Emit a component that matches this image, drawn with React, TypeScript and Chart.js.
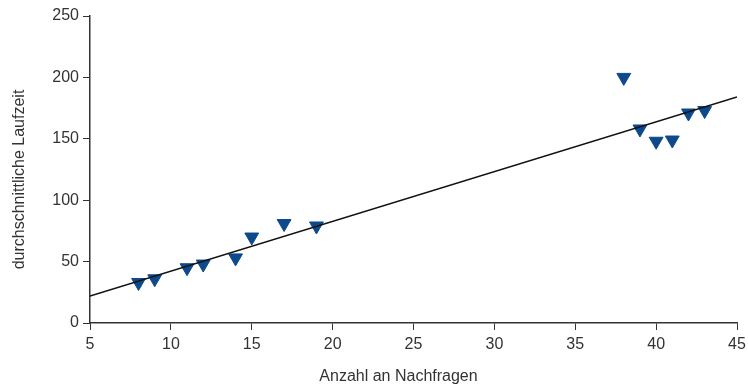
import React, { useEffect, useRef } from "react";
import { Chart, registerables } from "chart.js";

Chart.register(...registerables);

const requestsX = [8, 9, 11, 12, 14, 15, 17, 19, 38, 39, 40, 41, 42, 43];
const runtimeY = [33, 36, 45, 48, 53, 70, 81, 79, 200, 158, 148, 149, 171, 173];
const fitX = [5, 45];
const fitY = [22, 184];
const xTitle = "Anzahl an Nachfragen";
const yTitle = "durchschnittliche Laufzeit";

const FONT = "16px 'Liberation Sans', Arial, sans-serif";

const titlesPlugin = {
  id: "axisTitles",
  afterDraw(chart: any) {
    const c = chart.ctx;
    const area = chart.chartArea;
    c.save();
    c.fillStyle = "#333";
    c.font = FONT;
    c.textAlign = "center";
    c.textBaseline = "middle";
    c.fillText(xTitle, (area.left + area.right) / 2 - 15, 377);
    c.translate(20, (area.top + area.bottom) / 2 + 10);
    c.rotate(-Math.PI / 2);
    c.fillText(yTitle, 0, 0);
    c.restore();
  },
};

export default function App() {
  const ref = useRef<HTMLCanvasElement>(null);
  useEffect(() => {
    document.body.style.margin = "0";
    const ctx = ref.current!;
    const font = { family: "'Liberation Sans', Arial, sans-serif", size: 16 };
    const chart = new Chart(ctx, {
      type: "scatter",
      data: {
        datasets: [
          {
            type: "line",
            data: fitX.map((x, i) => ({ x, y: fitY[i] })),
            borderColor: "#111",
            borderWidth: 1.5,
            pointRadius: 0,
            fill: false,
          },
          {
            type: "scatter",
            data: requestsX.map((x, i) => ({ x, y: runtimeY[i] })),
            pointStyle: "triangle",
            rotation: 180,
            pointRadius: 8,
            pointHoverRadius: 8,
            backgroundColor: "#0d4a8c",
            borderColor: "#0d4a8c",
            borderWidth: 1,
          },
        ],
      },
      options: {
        animation: false,
        responsive: false,
        plugins: { legend: { display: false }, tooltip: { enabled: false } },
        layout: { padding: { top: 16, right: 11, left: 0, bottom: 0 } },
        scales: {
          x: {
            type: "linear",
            min: 5,
            max: 45,
            ticks: { stepSize: 5, color: "#333", font, padding: 5 },
            grid: { display: true, drawOnChartArea: false, drawTicks: true, tickLength: 7, color: "#333" },
            border: { display: true, color: "#333", width: 1.5 },
            afterFit: (s: any) => { s.height = 64; s.paddingRight = 0; s.paddingLeft = 0; },
          },
          y: {
            type: "linear",
            min: 0,
            max: 250,
            ticks: { stepSize: 50, color: "#333", font, padding: 4 },
            grid: { display: true, drawOnChartArea: false, drawTicks: true, tickLength: 7, color: "#333" },
            border: { display: true, color: "#333", width: 1.5 },
            afterFit: (s: any) => { s.width = 90; s.paddingTop = 0; s.paddingBottom = 0; },
          },
        },
      },
      plugins: [titlesPlugin],
    } as any);
    return () => chart.destroy();
  }, []);
  return (
    <div style={{ width: 748, height: 387, background: "#fff" }}>
      <canvas ref={ref} width={748} height={387} />
    </div>
  );
}
